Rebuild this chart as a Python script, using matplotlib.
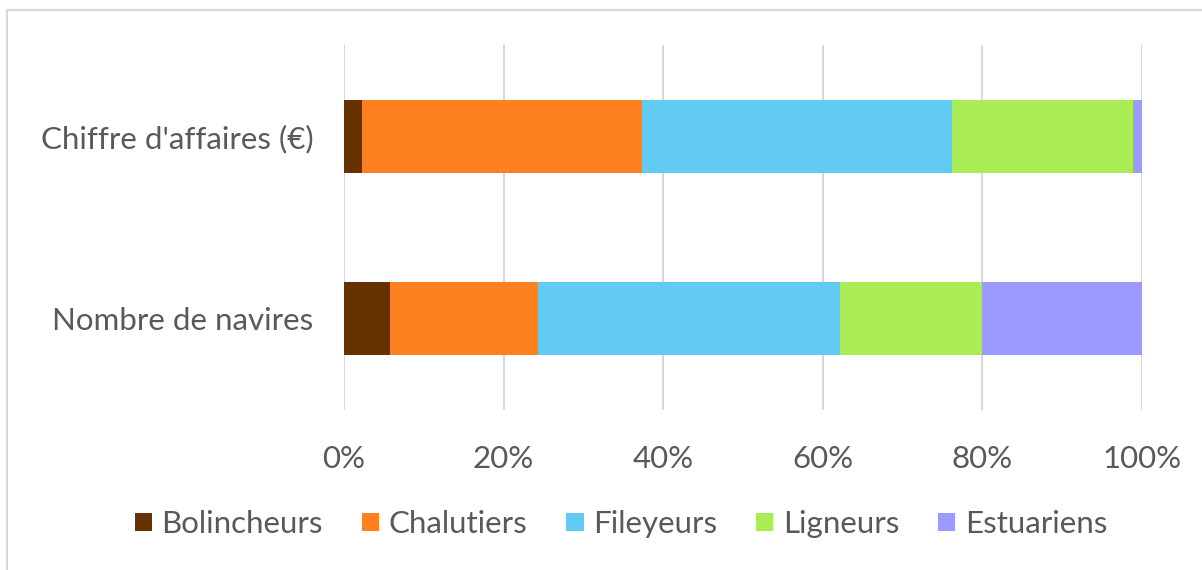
"""Stacked 100% horizontal bars: fleet segments by revenue and number of vessels."""

import matplotlib

matplotlib.use("Agg")
import matplotlib.pyplot as plt
import numpy as np
from matplotlib.lines import Line2D
from matplotlib.ticker import FuncFormatter

CATEGORIES = ["Nombre de navires", "Chiffre d'affaires (€)"]
SEGMENTS = ["Bolincheurs", "Chalutiers", "Fileyeurs", "Ligneurs", "Estuariens"]
# part (%) de chaque segment, ordre = CATEGORIES
BOLINCHEURS = [5.8, 2.2]
CHALUTIERS = [18.5, 35.2]
FILEYEURS = [37.9, 38.8]
LIGNEURS = [17.8, 22.7]
ESTUARIENS = [20.0, 1.1]
COLORS = ["#663300", "#FF8021", "#61CBF3", "#A9EC55", "#9B9BFF"]

TEXT_COLOR = "#595959"
GRID_COLOR = "#D9D9D9"
FONT_SIZE = 22.5

plt.rcParams["font.family"] = ["Lato", "DejaVu Sans"]

fig = plt.figure(figsize=(12.02, 5.70), dpi=100)
ax = fig.add_axes([344 / 1202, 160 / 570, 798 / 1202, 365 / 570])

values = [BOLINCHEURS, CHALUTIERS, FILEYEURS, LIGNEURS, ESTUARIENS]
y = np.arange(len(CATEGORIES))
left = np.zeros(len(CATEGORIES))
for name, vals, color in zip(SEGMENTS, values, COLORS):
    vals = np.asarray(vals, dtype=float)
    ax.barh(y, vals, left=left, height=0.4, color=color, label=name, zorder=2)
    left += vals

ax.set_xlim(0, 100)
ax.set_ylim(-0.5, 1.5)
ax.set_xticks(np.arange(0, 101, 20))
ax.xaxis.set_major_formatter(FuncFormatter(lambda v, _: f"{v:.0f}%"))
ax.set_yticks(y)
ax.set_yticklabels(CATEGORIES)
ax.grid(axis="x", color=GRID_COLOR, linewidth=1.5, zorder=0)
ax.tick_params(axis="both", length=0, labelsize=FONT_SIZE, labelcolor=TEXT_COLOR)
ax.tick_params(axis="x", pad=25)
ax.tick_params(axis="y", pad=22)
for spine in ax.spines.values():
    spine.set_visible(False)

fig.legend(
    loc="center",
    bbox_to_anchor=(621 / 1202, 1 - 524 / 570),
    ncol=5,
    frameon=False,
    fontsize=FONT_SIZE,
    labelcolor=TEXT_COLOR,
    handlelength=0.55,
    handleheight=0.55,
    handletextpad=0.3,
    columnspacing=1.25,
)

# bordure de la zone de graphique (haut et gauche visibles)
fig.add_artist(Line2D([7 / 1202, 1], [1 - 10 / 570] * 2, color=GRID_COLOR, linewidth=1.5))
fig.add_artist(Line2D([7 / 1202] * 2, [0, 1 - 10 / 570], color=GRID_COLOR, linewidth=1.5))

fig.savefig("out.png", dpi=100)
